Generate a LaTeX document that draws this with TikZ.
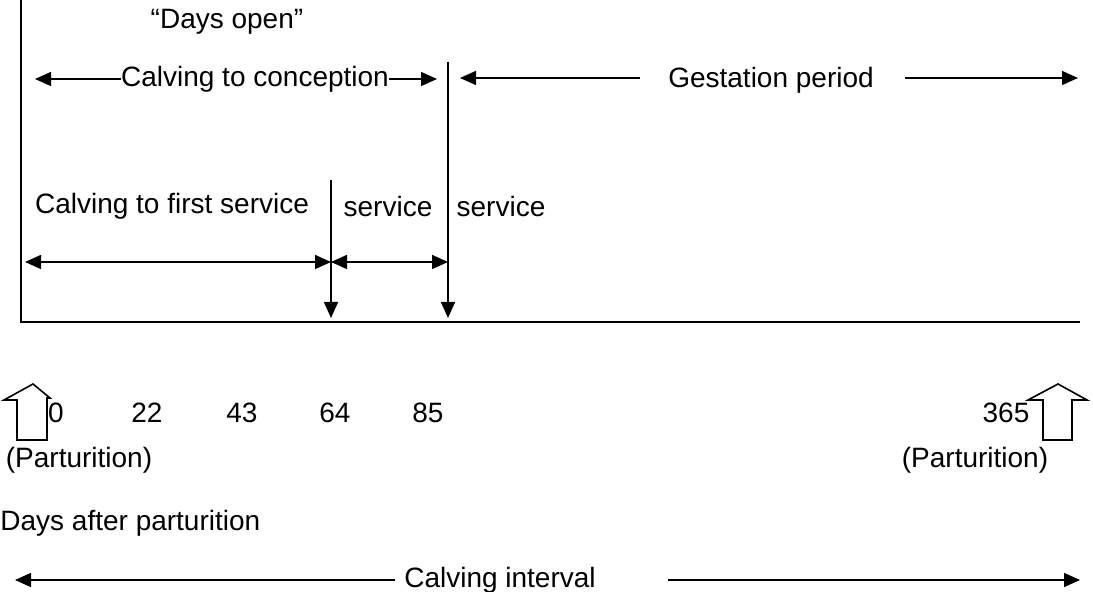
\documentclass[tikz,border=0pt]{standalone}
\usepackage{fontspec}
\setmainfont{Liberation Sans}
\usetikzlibrary{arrows.meta}
\begin{document}
\begin{tikzpicture}[x=0.5pt,y=-0.5pt,
  every node/.style={inner sep=0pt,font=\fontsize{14}{16}\selectfont},
  ln/.style={line width=0.75pt,black},
  tri/.style={-{Triangle[length=8pt,width=7pt]}},
  bitri/.style={{Triangle[length=8pt,width=7pt]}-{Triangle[length=8pt,width=7pt]}},
  hollow/.style={line width=0.8pt,fill=white,line join=miter}]
\useasboundingbox (0,0) rectangle (1093,592);
% vertical lines and axis
\coordinate (v0t) at (21,0);
\coordinate (v0b) at (21,322);
\coordinate (axL) at (20,322);
\coordinate (axR) at (1080,322);
\coordinate (v64t) at (331,180);
\coordinate (v64b) at (331,318);
\coordinate (v85t) at (448,62);
\coordinate (v85b) at (448,318);
\draw[ln] (v0t) -- (v0b);
\draw[ln] (axL) -- (axR);
\draw[ln,tri] (v64t) -- (v64b);
\draw[ln,tri] (v85t) -- (v85b);
% top labels
\node (dopen) at (227,22) {“Days open”};
\node (ctc) at (255,79) {Calving to conception};
\coordinate (ctcL) at (35,79);
\coordinate (ctcR) at (437,79);
\draw[ln,tri] (ctc.west) -- (ctcL);
\draw[ln,tri] (ctc.east) -- (ctcR);
\node (gest) at (771,80) {Gestation period};
\coordinate (gL) at (460,78);
\coordinate (gL1) at (640,78);
\coordinate (gR1) at (905,78);
\coordinate (gR) at (1078,78);
\draw[ln,tri] (gL1) -- (gL);
\draw[ln,tri] (gR1) -- (gR);
% service labels
\node (cfs) at (172,206) {Calving to first service};
\node (s1) at (388,206) {service};
\node (s2) at (501,206) {service};
\coordinate (a1L) at (25,262);
\coordinate (a1R) at (331,262);
\coordinate (a2R) at (448,262);
\draw[ln,bitri] (a1L) -- (a1R);
\draw[ln,bitri] (a1R) -- (a2R);
% hollow arrows
\draw[hollow] (17,440) -- (17,400) -- (4,400) -- (33,384) -- (50,398) -- (47,398) -- (47,440) -- cycle;
\draw[hollow] (1043,440) -- (1043,400) -- (1028,400) -- (1058,384) -- (1087,400) -- (1072,400) -- (1072,440) -- cycle;
% day numbers
\node (d0) at (56,413) {0};
\node (d22) at (147,413) {22};
\node (d43) at (242,413) {43};
\node (d64) at (335,413) {64};
\node (d85) at (428,413) {85};
\node (d365) at (1006,413) {365};
\node (p1) at (79,460) {(Parturition)};
\node (p2) at (975,460) {(Parturition)};
\node[anchor=west] (dap) at (0,523) {Days after parturition};
% calving interval
\node (ci) at (500,580) {Calving interval};
\coordinate (ciL) at (15,580);
\coordinate (ciL1) at (395,580);
\coordinate (ciR1) at (668,580);
\coordinate (ciR) at (1080,580);
\draw[ln,tri] (ciL1) -- (ciL);
\draw[ln,tri] (ciR1) -- (ciR);
\end{tikzpicture}
\end{document}
